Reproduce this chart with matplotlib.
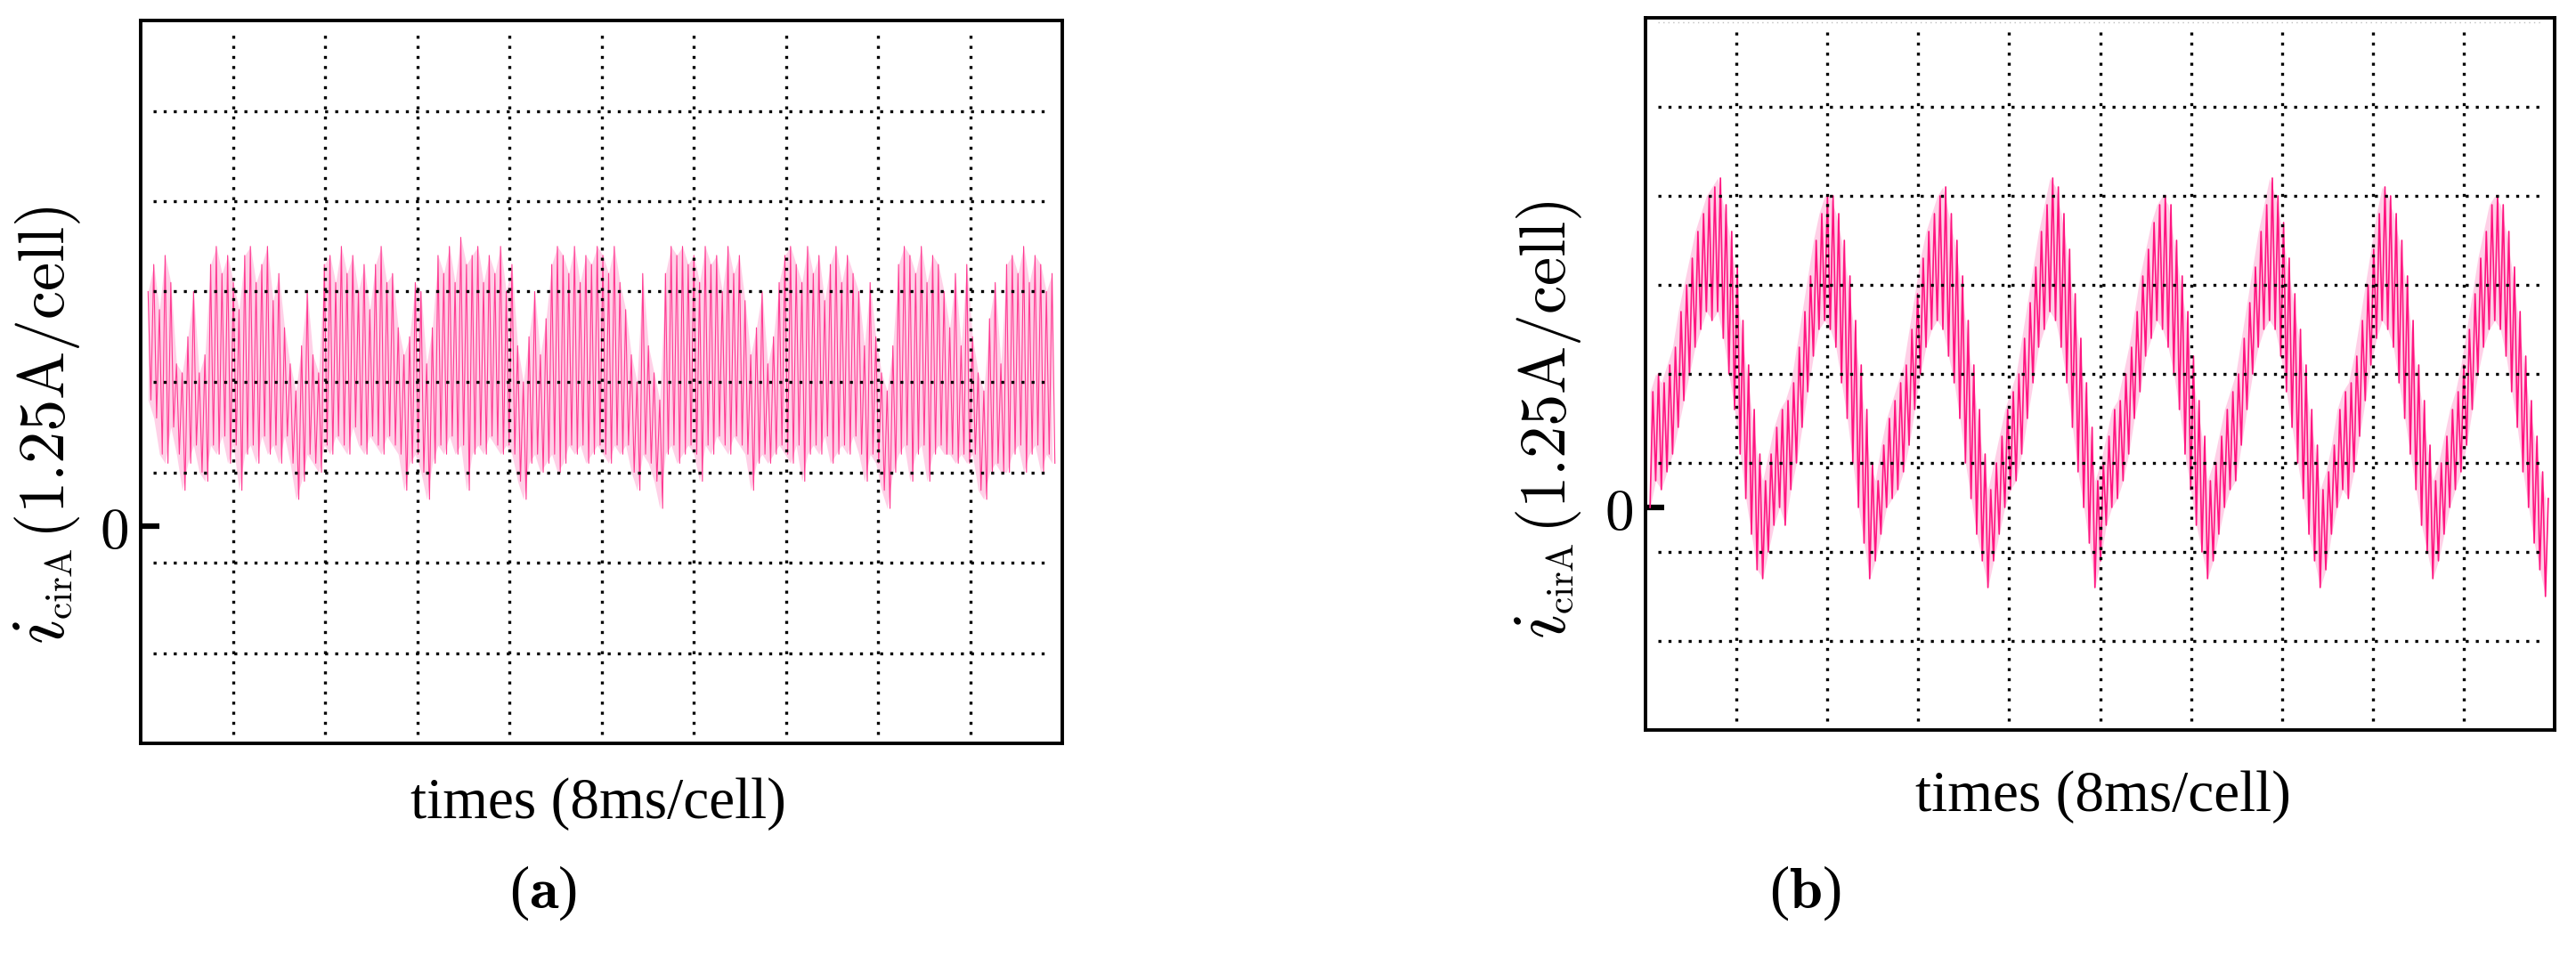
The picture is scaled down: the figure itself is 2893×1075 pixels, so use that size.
import numpy as np
import matplotlib.pyplot as plt
from matplotlib.transforms import IdentityTransform

plt.rcParams['mathtext.fontset'] = 'cm'

# scope traces of i_cirA, in tenths of a vertical cell (1.25 A/cell),
# read as (high, low) pairs, 16 pairs per time cell (8 ms/cell)
trace_a = [
    26, 14, 29, 12, 24, 8, 30, 7, 27, 11, 18, 8, 17, 4, 21, 7, 26, 9, 17, 6, 19, 5, 29, 9, 31, 8, 28, 10, 30, 7, 27, 9,
    24, 4, 30, 8, 31, 9, 27, 7, 29, 10, 31, 8, 25, 9, 28, 7, 22, 10, 18, 7, 15, 3, 20, 5, 26, 8, 19, 7, 17, 6, 29, 9,
    30, 8, 27, 10, 31, 9, 28, 8, 30, 11, 26, 9, 29, 8, 24, 10, 29, 9, 31, 8, 27, 10, 28, 9, 22, 8, 19, 4, 21, 7, 27, 8,
    26, 6, 18, 3, 22, 7, 30, 9, 28, 8, 31, 10, 27, 8, 32, 9, 29, 4, 30, 8, 31, 9, 27, 8, 30, 10, 28, 9, 31, 8, 26, 9,
    29, 8, 20, 5, 16, 3, 21, 7, 26, 8, 19, 6, 23, 7, 29, 8, 31, 6, 30, 7, 28, 9, 31, 8, 27, 9, 30, 7, 29, 8, 31, 9,
    30, 8, 28, 7, 31, 9, 27, 8, 24, 9, 19, 6, 16, 4, 28, 8, 20, 7, 17, 5, 14, 2, 28, 8, 31, 9, 30, 7, 31, 8, 29, 9,
    30, 8, 27, 5, 31, 9, 29, 8, 30, 10, 26, 9, 31, 8, 28, 10, 30, 9, 25, 8, 19, 4, 22, 7, 26, 8, 18, 7, 21, 8, 27, 9,
    30, 8, 31, 7, 29, 9, 27, 5, 31, 8, 28, 9, 30, 8, 25, 10, 29, 7, 31, 8, 27, 9, 30, 8, 28, 10, 26, 8, 20, 5, 27, 8,
    21, 7, 17, 4, 15, 2, 20, 6, 29, 8, 31, 9, 30, 5, 28, 8, 31, 9, 27, 5, 30, 8, 29, 9, 26, 8, 22, 8, 28, 7, 20, 8,
    29, 7, 21, 8, 17, 4, 15, 3, 23, 6, 27, 7, 18, 6, 29, 6, 30, 8, 28, 9, 31, 6, 27, 8, 30, 9, 29, 6, 26, 8, 28, 7,
]
trace_b = [
    0, 13, 3, 15, 2, 14, 4, 16, 6, 18, 9, 22, 12, 25, 15, 28, 18, 31, 20, 33, 22, 35, 21, 36, 22, 37, 19, 34, 15, 31, 11, 27,
    6, 21, 1, 16, -3, 11, -7, 6, -8, 3, -5, 6, -2, 9, 0, 11, -2, 12, 2, 14, 5, 18, 9, 22, 13, 26, 17, 30, 20, 33, 21, 35,
    20, 35, 18, 33, 14, 30, 10, 26, 5, 21, 0, 16, -4, 11, -8, 5, -6, 3, -3, 7, 0, 10, 1, 12, 2, 14, 4, 16, 7, 20, 11, 24,
    15, 28, 18, 31, 20, 33, 21, 35, 20, 36, 17, 33, 14, 30, 10, 26, 5, 21, 1, 16, -3, 11, -6, 6, -9, 2, -6, 5, -3, 8, 0, 11,
    2, 13, 3, 15, 6, 19, 10, 23, 14, 27, 18, 31, 20, 34, 22, 37, 21, 36, 18, 33, 14, 29, 9, 24, 4, 19, 0, 14, -4, 9, -9, 3,
    -6, 5, -2, 8, 0, 11, 1, 12, 3, 15, 6, 18, 10, 22, 13, 26, 17, 29, 19, 32, 21, 34, 20, 35, 18, 34, 15, 30, 11, 26, 6, 22,
    2, 17, -2, 12, -5, 8, -8, 3, -6, 5, -3, 8, 0, 11, 2, 13, 3, 15, 7, 19, 11, 23, 15, 27, 18, 31, 20, 34, 21, 37, 20, 35,
    17, 32, 13, 28, 9, 24, 5, 20, 1, 16, -3, 11, -6, 7, -9, 2, -7, 4, -3, 7, 0, 11, 2, 13, 1, 14, 4, 17, 8, 21, 12, 25,
    16, 29, 19, 33, 21, 36, 20, 35, 18, 33, 14, 30, 10, 26, 6, 21, 2, 16, -2, 12, -5, 7, -8, 3, -6, 5, -3, 8, 0, 11, 2, 13,
    4, 16, 7, 20, 11, 24, 15, 28, 18, 31, 20, 34, 21, 35, 20, 34, 17, 31, 13, 27, 9, 22, 4, 17, 0, 12, -4, 8, -7, 4, -10, 1,
]
# time span (cells) covered by each record
span_a = (0.08, 9.92)
span_b = (0.05, 9.93)

W, H = 2893, 1075
PINK = '#ff1480'


def px(ax_box):
    l, t, r, b = ax_box
    return [l / W, 1 - b / H, (r - l) / W, (b - t) / H]


def scope(ax, trace, span, ylo, lw, col):
    y = np.array(trace) / 10.0
    t = np.linspace(span[0], span[1], len(y))
    # light band between each high/low pair, then the trace itself
    ax.fill_between(t[0::2], y[0::2], y[1::2], color='#ffa3d0', alpha=0.5,
                    lw=0, zorder=1)
    ax.plot(t, y, color=col, lw=lw, zorder=2)
    ax.set_xlim(0, 10)
    ax.set_ylim(ylo, ylo + 8)
    dot = dict(color='k', lw=2.4, ls=(0, (1, 2.4)), zorder=3)
    for k in range(1, 10):
        ax.plot([k, k], [ylo + 0.1, ylo + 7.9], **dot)
    for k in range(1, 8):
        yy = ylo + k
        ax.plot([0.14, 9.86], [yy, yy], **dot)
    for s in ax.spines.values():
        s.set_linewidth(2.8)
    ax.set_xticks([])
    ax.set_yticks([0])
    ax.set_yticklabels(['$0$'])
    ax.tick_params(axis='y', direction='in', length=15, width=4.5,
                   pad=10, labelsize=47)


def ylabel(fig, xb, ybot):
    # i_cirA (1.25A/cell), written bottom-up along a vertical baseline
    r = fig.canvas.get_renderer()
    kw = dict(rotation=90, rotation_mode='anchor', ha='left', va='baseline',
              transform=IdentityTransform())
    y = H - ybot
    t1 = fig.text(xb, y, '$i$', fontsize=62, **kw)
    y += t1.get_window_extent(r).height + 1
    t2 = fig.text(xb + 9, y, r'$\mathrm{cirA}$', fontsize=31, **kw)
    y += t2.get_window_extent(r).height + 10
    fig.text(xb, y, r'$(1.25\mathrm{A/cell})$', fontsize=52, **kw)


fig = plt.figure(figsize=(W / 100, H / 100), dpi=100)
ax_a = fig.add_axes(px((158, 23, 1193, 835)))
ax_b = fig.add_axes(px((1848, 20, 2869, 820)))

scope(ax_a, trace_a, span_a, -2.4, 0.8, '#ff3a92')
scope(ax_b, trace_b, span_b, -2.5, 1.2, PINK)
ax_b.axhline(5.45, xmin=0.014, xmax=0.986, color='#c0c0c0', lw=1,
             ls=(0, (1, 3)), zorder=1)

ylabel(fig, 72, 724)
ylabel(fig, 1758, 718)

serif = ['Liberation Serif', 'DejaVu Serif']
idt = IdentityTransform()
for xc, yc in ((672, 903), (2362, 895)):
    fig.text(xc, H - yc, 'times (8ms/cell)', family=serif, fontsize=47,
             ha='center', va='center', transform=idt)
for xc, tag in ((610, 'a'), (2027, 'b')):
    fig.text(xc, H - 1003, '(' + r'$\bf{' + tag + '}$' + ')', family=serif,
             fontsize=48, ha='center', va='center', transform=idt)

fig.savefig('out.png', dpi=100)
